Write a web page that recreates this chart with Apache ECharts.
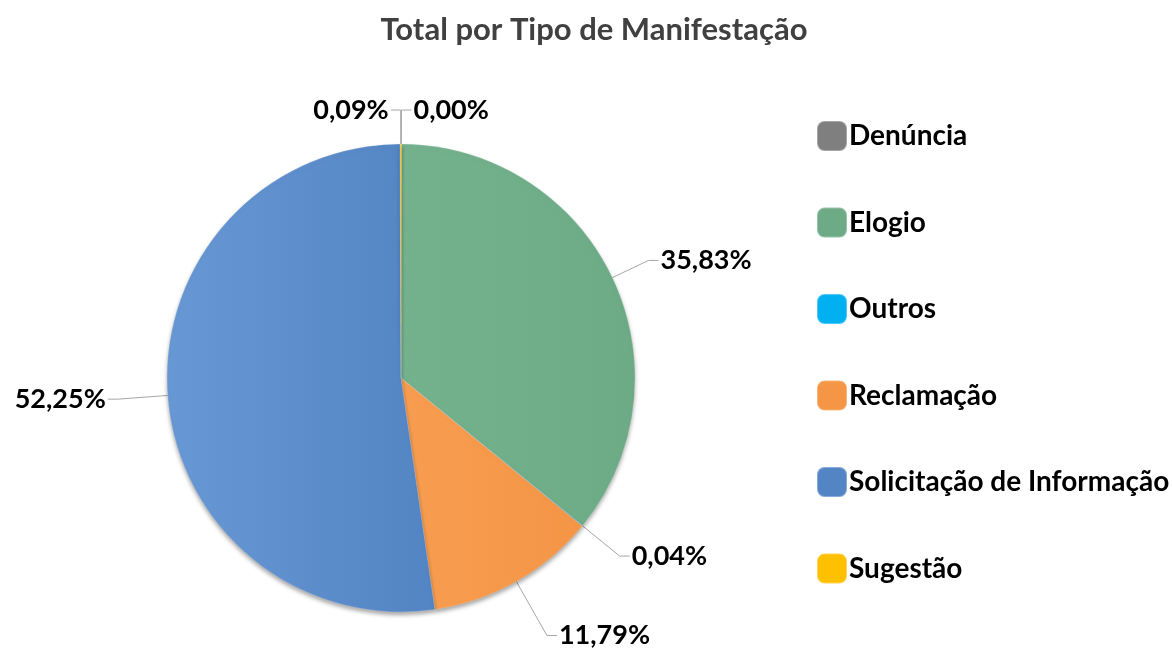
<!DOCTYPE html>
<html>
<head>
    <meta charset="utf-8">
    <title>Total por Tipo de Manifestação</title>
    <script src="https://cdn.jsdelivr.net/npm/echarts@6/dist/echarts.min.js"></script>
</head>
<body style="margin:0;background:#fff;">
    <div id="main" style="width: 1172px;height:657px;"></div>
    <script type="text/javascript">
        // dados (percentual)
        var categorias = ['Denúncia', 'Elogio', 'Outros', 'Reclamação', 'Solicitação de Informação', 'Sugestão'];
        var valores = [0.00, 35.83, 0.04, 11.79, 52.25, 0.09];
        var cores = ['#7f7f7f', '#6dab86', '#00b0f0', '#f59546', '#5384c3', '#ffc000'];
        var coresClaras = ['#8a8a8a', '#74b28d', '#1ab8f2', '#f79d50', '#6898d4', '#ffc61a'];
        // comprimento da linha guia de cada rótulo
        var linhas = [34, 40, 48, 62, 50, 34];

        var fonte = 'Lato, "Open Sans", sans-serif';
        var myChart = echarts.init(document.getElementById('main'));

        var dados = categorias.map(function (nome, i) {
            return {
                name: nome,
                value: valores[i],
                labelLine: { length: linhas[i] },
                itemStyle: {
                    color: new echarts.graphic.LinearGradient(0, 0, 1, 0, [
                        { offset: 0, color: coresClaras[i] },
                        { offset: 1, color: cores[i] }
                    ])
                }
            };
        });

        var option = {
            animation: false,
            color: cores,
            title: {
                text: 'Total por Tipo de Manifestação',
                left: 589,
                textAlign: 'center',
                top: 9,
                textStyle: { fontFamily: fonte, fontSize: 31, fontWeight: 'bold', color: '#404040' }
            },
            legend: {
                orient: 'vertical',
                left: 811,
                top: 115,
                itemWidth: 30,
                itemHeight: 30,
                itemGap: 54.5,
                icon: 'roundRect',
                data: categorias.map(function (c, i) {
                    return { name: c, itemStyle: { color: cores[i] } };
                }),
                textStyle: { fontFamily: fonte, fontSize: 28, fontWeight: 'bold', color: '#000', padding: [0, 0, 0, -3] }
            },
            series: [{
                type: 'pie',
                center: [401, 378],
                radius: 234,
                startAngle: 89.9,
                clockwise: true,
                data: dados,
                itemStyle: {
                    borderColor: 'rgba(255,255,255,0.3)',
                    borderWidth: 0.5,
                    shadowColor: 'rgba(0,0,0,0.35)',
                    shadowBlur: 4,
                    shadowOffsetY: 3
                },
                label: {
                    show: true,
                    position: 'outside',
                    fontFamily: fonte,
                    fontSize: 27,
                    fontWeight: 'bold',
                    color: '#000',
                    distanceToLabelLine: 2,
                    formatter: function (p) {
                        return p.value.toFixed(2).replace('.', ',') + '%';
                    }
                },
                labelLine: {
                    show: true,
                    length: 34,
                    length2: 10,
                    lineStyle: { color: '#a6a6a6', width: 1 }
                }
            }]
        };

        myChart.setOption(option);
    </script>
</body>
</html>
